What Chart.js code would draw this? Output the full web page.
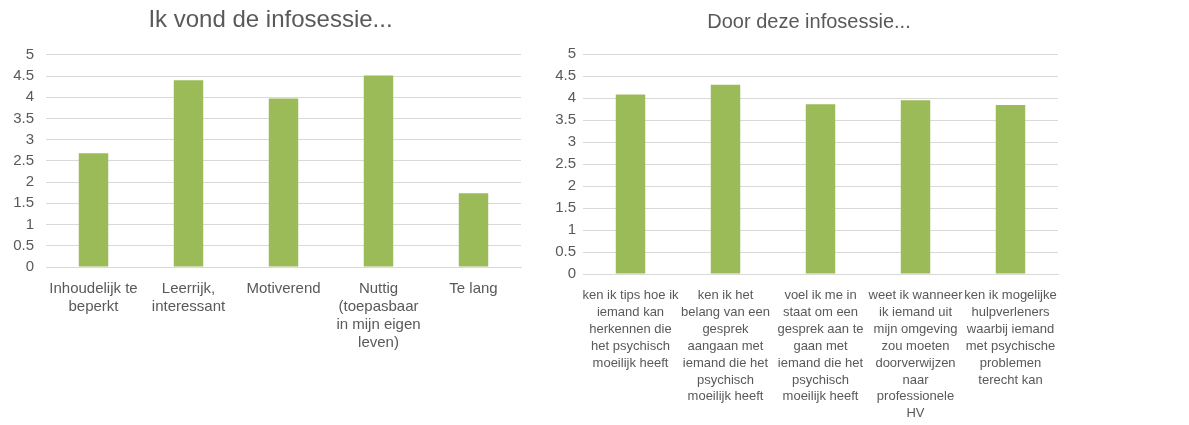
<!DOCTYPE html>
<html>
<head>
<meta charset="utf-8">
<script src="https://cdn.jsdelivr.net/npm/chart.js@4.4.0/dist/chart.umd.min.js"></script>
<style>
  body { margin: 0; background: #fff; }
  #wrapLeft { position: absolute; left: 0; top: 0; }
  #wrapRight { position: absolute; left: 540px; top: 0; }
</style>
</head>
<body>
<div id="wrapLeft"><canvas id="chartLeft" width="530" height="425"></canvas></div>
<div id="wrapRight"><canvas id="chartRight" width="530" height="425"></canvas></div>
<script>
// data
var leftTitle = "Ik vond de infosessie...";
var leftLabels = [
    ["Inhoudelijk te", "beperkt"],
    ["Leerrijk,", "interessant"],
    ["Motiverend"],
    ["Nuttig", "(toepasbaar", "in mijn eigen", "leven)"],
    ["Te lang"],
];
var leftValues = [2.68, 4.40, 3.97, 4.51, 1.74];

var rightTitle = "Door deze infosessie...";
var rightLabels = [
    ["ken ik tips hoe ik", "iemand kan", "herkennen die", "het psychisch", "moeilijk heeft"],
    ["ken ik het", "belang van een", "gesprek", "aangaan met", "iemand die het", "psychisch", "moeilijk heeft"],
    ["voel ik me in", "staat om een", "gesprek aan te", "gaan met", "iemand die het", "psychisch", "moeilijk heeft"],
    ["weet ik wanneer", "ik iemand uit", "mijn omgeving", "zou moeten", "doorverwijzen", "naar", "professionele", "HV"],
    ["ken ik mogelijke", "hulpverleners", "waarbij iemand", "met psychische", "problemen", "terecht kan"],
];
var rightValues = [4.08, 4.30, 3.86, 3.95, 3.84];

var yTickLabels = ["0", "0.5", "1", "1.5", "2", "2.5", "3", "3.5", "4", "4.5", "5"];

var fontFamily = "'Liberation Sans', Arial, sans-serif";
var textColor = "#595959";
var barColor = "#9bbb59";
var gridColor = "#d9d9d9";

function makeChart(id, title, labels, values, opts) {
    var ctx = document.getElementById(id).getContext("2d");
    return new Chart(ctx, {
        type: "bar",
        data: {
            labels: labels,
            datasets: [
                {
                data: values,
                backgroundColor: barColor,
                borderWidth: 0,
                categoryPercentage: 1,
                barPercentage: 0.31,
                },
            ],
        },
        plugins: [
            {
            // title in the original sits a bit right of the canvas centre
            id: "shiftTitle",
            afterLayout: function (chart) {
                chart.titleBlock.left += opts.titleShift;
                chart.titleBlock.right += opts.titleShift;
            },
            },
        ],
        options: {
            responsive: false,
            animation: false,
            devicePixelRatio: 1,
            layout: {
                padding: { left: 0, right: opts.padRight, top: 0, bottom: 0 },
            },
            plugins: {
                legend: { display: false },
                tooltip: { enabled: false },
                title: {
                    display: true,
                    text: title,
                    color: textColor,
                    font: { family: fontFamily, size: opts.titleSize, weight: "normal", lineHeight: 1.2 },
                    padding: { top: opts.titleTop, bottom: 20 },
                },
            },
            scales: {
                y: {
                    min: 0,
                    max: 5,
                    afterFit: function (scale) { scale.width = opts.yWidth; },
                    grid: {
                        color: gridColor,
                        drawTicks: false,
                    },
                    border: { display: false },
                    ticks: {
                        stepSize: 0.5,
                        padding: opts.yPad,
                        color: textColor,
                        font: { family: fontFamily, size: 15 },
                        callback: function (value, i) { return yTickLabels[i]; },
                    },
                },
                x: {
                    afterFit: function (scale) { scale.height = opts.xHeight; },
                    grid: { display: false },
                    border: { display: true, color: gridColor },
                    ticks: {
                        autoSkip: false,
                        maxRotation: 0,
                        padding: 5,
                        color: textColor,
                        font: { family: fontFamily, size: opts.xFont, lineHeight: opts.xLine },
                    },
                },
            },
        },
    });
}

makeChart("chartLeft", leftTitle, leftLabels, leftValues,
    { padRight: 9, yWidth: 46, yPad: 12, xHeight: 158, xFont: 15, xLine: 1.2,
      titleSize: 24, titleTop: 6, titleShift: 10 });
makeChart("chartRight", rightTitle, rightLabels, rightValues,
    { padRight: 12, yWidth: 43, yPad: 7, xHeight: 151, xFont: 13, xLine: 1.3,
      titleSize: 20, titleTop: 10, titleShift: 10 });
</script>
</body>
</html>
